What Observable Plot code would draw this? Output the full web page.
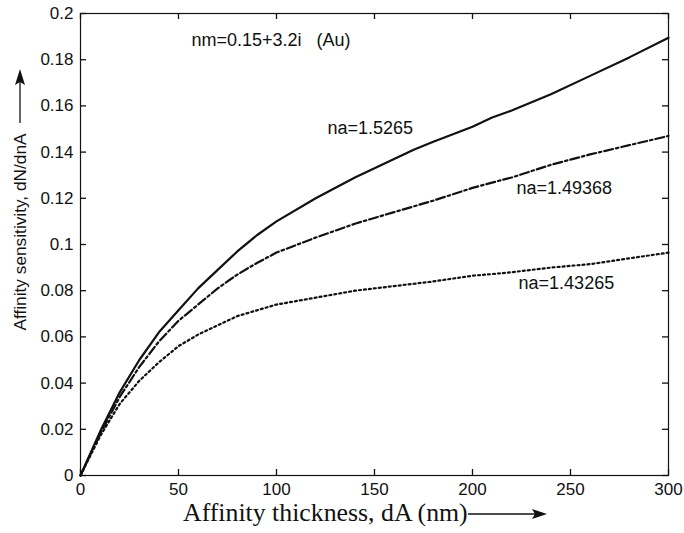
<!DOCTYPE html>
<html>
<head>
<meta charset="utf-8">
<script src="https://cdn.jsdelivr.net/npm/d3@7"></script>
<script src="https://cdn.jsdelivr.net/npm/@observablehq/plot@0.6"></script>
<style>
  html, body { margin: 0; padding: 0; background: #fff; }
  #chart svg { display: block; }
</style>
</head>
<body>
<div id="chart"></div>
<script>
// ---- data ----
const thickness = [0, 10, 20, 30, 40, 50, 60, 70, 80, 90, 100, 120, 140, 160, 170, 180, 200, 210, 220, 240, 260, 280, 300];
const sens_15265  = [0, 0.019, 0.036, 0.050, 0.062, 0.0715, 0.081, 0.089, 0.097, 0.104, 0.110, 0.120, 0.129, 0.137, 0.141, 0.1445, 0.151, 0.155, 0.158, 0.165, 0.173, 0.181, 0.1895];
const sens_149368 = [0, 0.018, 0.034, 0.047, 0.058, 0.067, 0.074, 0.081, 0.087, 0.092, 0.0965, 0.103, 0.109, 0.114, 0.1165, 0.119, 0.1245, 0.1268, 0.129, 0.1345, 0.139, 0.143, 0.147];
const sens_143265 = [0, 0.017, 0.031, 0.041, 0.049, 0.056, 0.061, 0.065, 0.069, 0.0715, 0.074, 0.077, 0.080, 0.082, 0.083, 0.084, 0.0865, 0.0872, 0.088, 0.090, 0.0915, 0.094, 0.0965];

const seriesNames = ["na=1.5265", "na=1.49368", "na=1.43265"];
const seriesValues = [sens_15265, sens_149368, sens_143265];

const xTicks = [0, 50, 100, 150, 200, 250, 300];
const yTicks = [0, 0.02, 0.04, 0.06, 0.08, 0.1, 0.12, 0.14, 0.16, 0.18, 0.2];
const yTickLabels = ["0", "0.02", "0.04", "0.06", "0.08", "0.1", "0.12", "0.14", "0.16", "0.18", "0.2"];

const annotationText = ["nm=0.15+3.2i", "(Au)", "na=1.5265", "na=1.49368", "na=1.43265"];
const annotationX = [56.6, 120.4, 126, 222.4, 223.5];
const annotationY = [0.1883, 0.1883, 0.1502, 0.1242, 0.0831];

const xTitle = "Affinity thickness, dA (nm)";
const yTitle = "Affinity sensitivity, dN/dnA";

// ---- tables built from the arrays ----
const rows = seriesNames.map((name, s) => thickness.map((t, i) => ({series: name, t, v: seriesValues[s][i]})));
const annotations = annotationText.map((text, i) => ({text, x: annotationX[i], y: annotationY[i]}));

const sans = "'Liberation Sans', Arial, Helvetica, sans-serif";
const serif = "'Liberation Serif', 'Times New Roman', serif";

const W = 684, H = 533;
const mL = 80, mR = 16, mT = 13, mB = 58;
const frameW = W - mL - mR, frameH = H - mT - mB;
const tickLen = 6;
const xDomain = [0, 300], yDomain = [0, 0.2];
// tick length expressed in data units along each axis
const dyTick = (yDomain[1] - yDomain[0]) * tickLen / frameH;
const dxTick = (xDomain[1] - xDomain[0]) * tickLen / frameW;

const tickStyle = {stroke: "#111", strokeWidth: 1.3};

const chart = Plot.plot({
  width: W,
  height: H,
  marginLeft: mL,
  marginRight: mR,
  marginTop: mT,
  marginBottom: mB,
  style: {fontFamily: sans, fontSize: "17px", color: "#111", background: "#fff"},
  x: {domain: xDomain},
  y: {domain: yDomain},
  marks: [
    Plot.axisX(xTicks, {anchor: "bottom", tickSize: 0, tickPadding: 7, label: null, fontSize: 17}),
    Plot.axisY(yTicks, {anchor: "left", tickSize: 0, tickPadding: 7, label: null, fontSize: 17,
      tickFormat: (d) => yTickLabels[yTicks.indexOf(d)]}),
    // inward ticks on all four sides
    Plot.ruleX(xTicks, {x: (d) => d, y1: yDomain[0], y2: yDomain[0] + dyTick, ...tickStyle}),
    Plot.ruleX(xTicks, {x: (d) => d, y1: yDomain[1], y2: yDomain[1] - dyTick, ...tickStyle}),
    Plot.ruleY(yTicks, {y: (d) => d, x1: xDomain[0], x2: xDomain[0] + dxTick, ...tickStyle}),
    Plot.ruleY(yTicks, {y: (d) => d, x1: xDomain[1], x2: xDomain[1] - dxTick, ...tickStyle}),
    Plot.frame({stroke: "#111", strokeWidth: 1.2}),
    Plot.line(rows[0], {x: "t", y: "v", stroke: "#111", strokeWidth: 2.2}),
    Plot.line(rows[1], {x: "t", y: "v", stroke: "#111", strokeWidth: 2.2, strokeDasharray: "9,3,2.5,3"}),
    Plot.line(rows[2], {x: "t", y: "v", stroke: "#111", strokeWidth: 2.2, strokeDasharray: "2,3"}),
    Plot.text(annotations, {x: "x", y: "y", text: "text", textAnchor: "start", fontSize: 18, fill: "#111"})
  ]
});

const svg = d3.select(chart);

// x axis title with arrow
svg.append("text")
  .attr("x", 183).attr("y", 521)
  .attr("text-anchor", "start")
  .attr("font-family", serif).attr("font-size", 25.8).attr("fill", "#111")
  .text(xTitle);
svg.append("line").attr("x1", 468).attr("y1", 514).attr("x2", 536).attr("y2", 514)
  .attr("stroke", "#111").attr("stroke-width", 1.3);
svg.append("path").attr("d", "M547,514 L532,509 L535,514 L532,519 Z").attr("fill", "#111");

// y axis title with arrow
svg.append("text")
  .attr("transform", "translate(26,232) rotate(-90)")
  .attr("text-anchor", "middle")
  .attr("font-family", sans).attr("font-size", 17.3).attr("fill", "#111")
  .text(yTitle);
svg.append("line").attr("x1", 20).attr("y1", 123).attr("x2", 20).attr("y2", 80)
  .attr("stroke", "#111").attr("stroke-width", 1.3);
svg.append("path").attr("d", "M20,69 L15,85 L20,82 L25,85 Z").attr("fill", "#111");

document.getElementById("chart").appendChild(chart);
</script>
</body>
</html>
